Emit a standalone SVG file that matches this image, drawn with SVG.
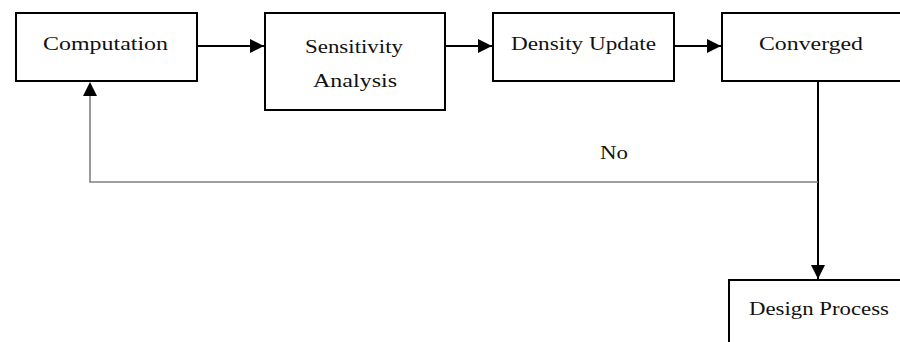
<svg xmlns="http://www.w3.org/2000/svg" width="900" height="342" viewBox="0 0 900 342">
<defs>
<style>
.box{fill:#fff;stroke:#000;stroke-width:2}
.lbl{font-family:"Liberation Serif","Times New Roman",serif;font-size:18.5px;fill:#111;text-anchor:middle}
.edge{fill:none;stroke:#000;stroke-width:2}
.fb{fill:none;stroke:#808080;stroke-width:1.6}
</style>
<marker id="ah" viewBox="0 0 10 10" refX="10" refY="5" markerWidth="14" markerHeight="14" markerUnits="userSpaceOnUse" orient="auto">
<path d="M0,0 L10,5 L0,10 Z" fill="#000"/>
</marker>
</defs>
<rect width="900" height="342" fill="#fff"/>
<g id="connectors">
<line class="edge" x1="197" y1="46" x2="264" y2="46" marker-end="url(#ah)"/>
<line class="edge" x1="446" y1="46" x2="492" y2="46" marker-end="url(#ah)"/>
<line class="edge" x1="675" y1="46" x2="721" y2="46" marker-end="url(#ah)"/>
<line class="edge" x1="818" y1="82" x2="818" y2="279" marker-end="url(#ah)"/>
<polyline class="fb" points="818,182 90,182 90,96"/>
<path d="M83,96 L97,96 L90,82 Z" fill="#000"/>
<text class="lbl" x="614" y="159" textLength="28" lengthAdjust="spacingAndGlyphs">No</text>
</g>
<g id="computation">
<rect class="box" x="16" y="13" width="181" height="68"/>
<text class="lbl" x="105.5" y="50" textLength="125" lengthAdjust="spacingAndGlyphs">Computation</text>
</g>
<g id="sensitivity">
<rect class="box" x="265" y="13" width="180" height="97"/>
<text class="lbl" x="354" y="53" textLength="98" lengthAdjust="spacingAndGlyphs">Sensitivity</text>
<text class="lbl" x="355" y="87" textLength="84" lengthAdjust="spacingAndGlyphs">Analysis</text>
</g>
<g id="density">
<rect class="box" x="493" y="13" width="181" height="68"/>
<text class="lbl" x="583.5" y="50" textLength="145" lengthAdjust="spacingAndGlyphs">Density Update</text>
</g>
<g id="converged">
<rect class="box" x="722" y="13" width="190" height="68"/>
<text class="lbl" x="811" y="50" textLength="104" lengthAdjust="spacingAndGlyphs">Converged</text>
</g>
<g id="design">
<rect class="box" x="729" y="280" width="190" height="80"/>
<text class="lbl" x="819" y="315" textLength="140" lengthAdjust="spacingAndGlyphs">Design Process</text>
</g>
</svg>
